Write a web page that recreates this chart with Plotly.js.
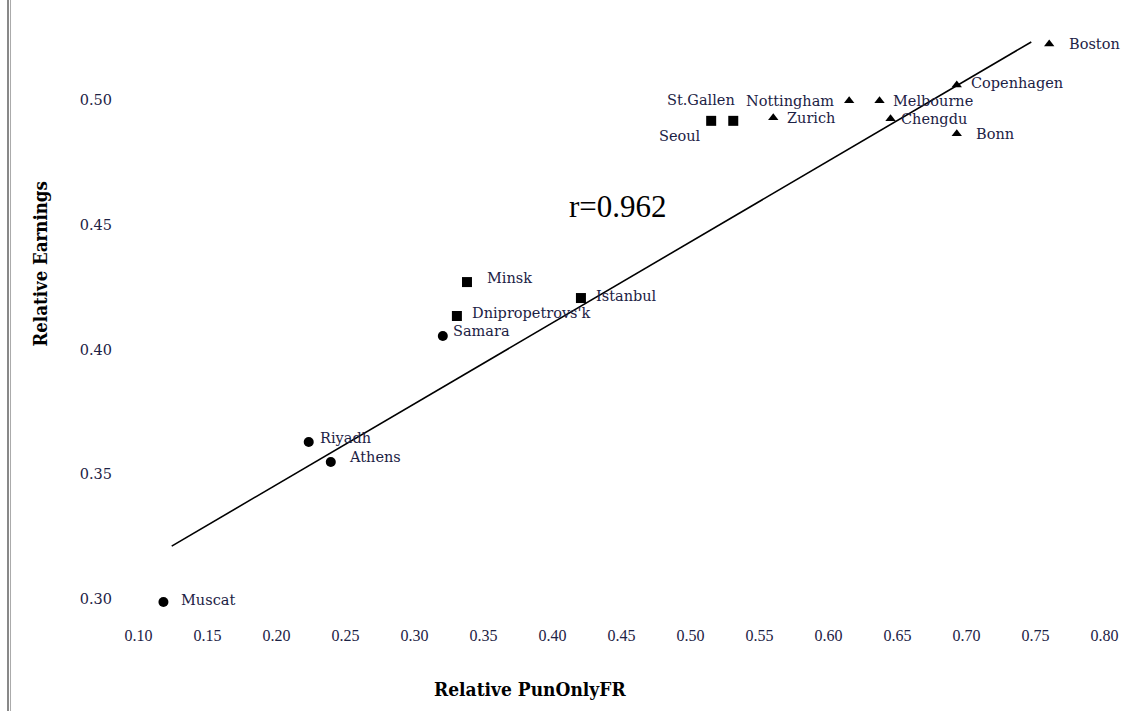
<!DOCTYPE html>
<html>
<head>
<meta charset="utf-8">
<script src="https://cdn.plot.ly/plotly-3.0.1.min.js"></script>
<style>html,body{margin:0;padding:0;background:#fff;}#chart{width:1141px;height:711px;}</style>
</head>
<body>
<div id="chart"></div>
<script>
// ---- data ----
const triNames = ["Boston","Copenhagen","Nottingham","Melbourne","Zurich","Chengdu","Bonn"];
const triX     = [0.760, 0.693, 0.615, 0.637, 0.560, 0.645, 0.693];
const triY     = [0.5224, 0.506, 0.4996, 0.4996, 0.4928, 0.4924, 0.4864];

const sqNames  = ["Seoul","St.Gallen","Minsk","Istanbul","Dnipropetrovs'k"];
const sqX      = [0.515, 0.531, 0.338, 0.4206, 0.3307];
const sqY      = [0.4916, 0.4916, 0.427, 0.4206, 0.4134];

const ciNames  = ["Samara","Riyadh","Athens","Muscat"];
const ciX      = [0.3205, 0.2233, 0.2393, 0.118];
const ciY      = [0.4054, 0.3629, 0.3549, 0.2988];

const fitX     = [0.124, 0.747];
const fitY     = [0.3212, 0.5232];
const rLabel   = "r=0.962";
const rPos     = [0.4475, 0.4571];

const tickVals = [0.10,0.15,0.20,0.25,0.30,0.35,0.40,0.45,0.50,0.55,0.60,0.65,0.70,0.75,0.80];
const yTickVals = [0.30,0.35,0.40,0.45,0.50];

// ---- label styling (pixel offsets, anchor) ----
const labelStyle = {
  "Boston":[18,0,"left"], "Copenhagen":[12,2,"left"], "Nottingham":[-13,0,"right"],
  "Melbourne":[11,0,"left"], "Zurich":[12,0,"left"], "Chengdu":[8,0,"left"], "Bonn":[17,0,"left"],
  "Seoul":[-8,-15,"right"], "St.Gallen":[4,21,"right"], "Minsk":[18,4,"left"],
  "Istanbul":[13,2,"left"], "Dnipropetrovs'k":[13,3,"left"],
  "Samara":[8,5,"left"], "Riyadh":[9,4,"left"], "Athens":[16,5,"left"], "Muscat":[16,2,"left"]
};

const txtColor = "#1c2245";
const labelFont = {family:"DejaVu Serif", size:14.5, color:txtColor};
const titleFamily = "Liberation Sans Narrow, DejaVu Serif Condensed, DejaVu Sans Condensed, Liberation Serif";

const traces = [
  {type:"scatter", mode:"lines", x:fitX, y:fitY, line:{color:"#000", width:1.6}, hoverinfo:"skip", showlegend:false},
  {type:"scatter", mode:"markers", x:triX, y:triY, text:triNames,
   marker:{symbol:"triangle-up", size:9, color:"#000"}, showlegend:false},
  {type:"scatter", mode:"markers", x:sqX, y:sqY, text:sqNames,
   marker:{symbol:"square", size:10, color:"#000"}, showlegend:false},
  {type:"scatter", mode:"markers", x:ciX, y:ciY, text:ciNames,
   marker:{symbol:"circle", size:10, color:"#000"}, showlegend:false}
];

const annotations = [];
function addLabels(names, xs, ys){
  names.forEach((n,i)=>{
    const s = labelStyle[n];
    annotations.push({x:xs[i], y:ys[i], xref:"x", yref:"y", text:n, showarrow:false,
      xanchor:s[2], yanchor:"middle", xshift:s[0], yshift:s[1], font:labelFont});
  });
}
addLabels(triNames, triX, triY);
addLabels(sqNames, sqX, sqY);
addLabels(ciNames, ciX, ciY);

annotations.push({x:rPos[0], y:rPos[1], xref:"x", yref:"y", text:rLabel, showarrow:false,
  xanchor:"center", yanchor:"middle",
  font:{family:"Liberation Serif", size:31, color:"#000"}});
annotations.push({x:530, y:689, xref:"paper", yref:"paper", text:"<b>Relative PunOnlyFR</b>", showarrow:false,
  xanchor:"center", yanchor:"middle",
  font:{family:titleFamily, size:19, color:"#000"}});
annotations.push({x:40, y:264, xref:"paper", yref:"paper", text:"<b>Relative Earnings</b>", showarrow:false, textangle:-90,
  xanchor:"center", yanchor:"middle",
  font:{family:titleFamily, size:18.5, color:"#000"}});

// convert pixel-placed titles to paper coords
const W=1141, H=711, M={l:111.4, r:9.4, t:25, b:87};
const pw = W-M.l-M.r, ph = H-M.t-M.b;
annotations.forEach(a=>{
  if(a.xref==="paper"){ a.x = (a.x - M.l)/pw; a.y = 1 - (a.y - M.t)/ph; }
});

const layout = {
  width:W, height:H,
  margin:M,
  paper_bgcolor:"#fff", plot_bgcolor:"#fff",
  xaxis:{range:[0.08,0.82], tickvals:tickVals, ticktext:tickVals.map(v=>v.toFixed(2)),
    showgrid:false, zeroline:false, showline:false, ticks:"",
    tickfont:{family:"Liberation Serif", size:16, color:txtColor}},
  yaxis:{range:[0.29,0.53], tickvals:yTickVals, ticktext:yTickVals.map(v=>v.toFixed(2)),
    showgrid:false, zeroline:false, showline:false, ticks:"", ticklabelstandoff:-2,
    tickfont:{family:"DejaVu Serif", size:14.5, color:txtColor}},
  annotations:annotations,
  shapes:[
    {type:"line", xref:"paper", yref:"paper", x0:(8.5-M.l)/pw, x1:(8.5-M.l)/pw, y0:1+M.t/ph, y1:-M.b/ph, line:{color:"#888", width:2}},
    {type:"line", xref:"paper", yref:"paper", x0:(11-M.l)/pw, x1:(11-M.l)/pw, y0:1+M.t/ph, y1:-M.b/ph, line:{color:"#aaa", width:1}}
  ],
  showlegend:false
};

Plotly.newPlot("chart", traces, layout, {displayModeBar:false, staticPlot:true});
</script>
</body>
</html>
